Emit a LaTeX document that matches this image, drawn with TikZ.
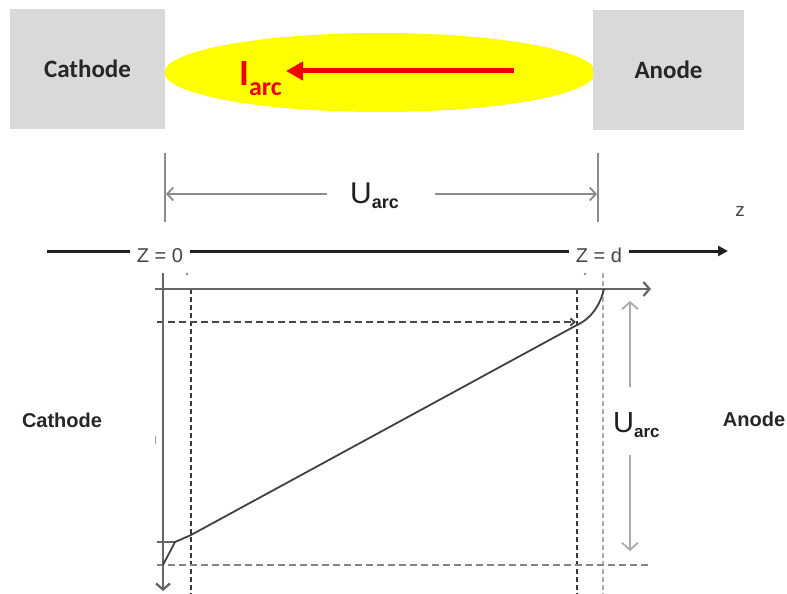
\documentclass[tikz,border=0pt]{standalone}
\usepackage{fontspec}
\setmainfont{Liberation Sans}
\newfontfamily\calib{Carlito}
\usetikzlibrary{arrows.meta,shapes.geometric}
\definecolor{boxgray}{HTML}{D9D9D9}
\definecolor{axgray}{HTML}{666666}
\definecolor{dimgray}{HTML}{8C8C8C}
\definecolor{ltgray}{HTML}{ABABAB}
\definecolor{txtgray}{HTML}{444444}
\definecolor{arcred}{HTML}{F00000}
\definecolor{arcyellow}{HTML}{FFFF00}
\begin{document}
\begin{tikzpicture}[x=1pt,y=-1pt,
 elbox/.style={fill=boxgray, inner sep=0pt, minimum height=120pt},
 eltext/.style={font=\calib\bfseries\fontsize{25}{25}\selectfont, text=black!85},
 sidetext/.style={font=\bfseries\fontsize{20}{20}\selectfont, text=black!85},
 dimline/.style={draw=dimgray, line width=1.8pt},
 dimarrow/.style={dimline, -{Straight Barb[length=6pt,width=13pt]}},
 axline/.style={draw=axgray, line width=2.3pt},
 axarrow/.style={axline, -{Straight Barb[length=6pt,width=14pt]}},
 zaxis/.style={draw=black!88, line width=3pt},
 zlabel/.style={font=\fontsize{20}{20}\selectfont, text=txtgray, inner xsep=7pt, inner ysep=0pt, anchor=base},
 blackdash/.style={draw=black!78, line width=1.8pt, dash pattern=on 5pt off 3pt},
 graydash/.style={draw=ltgray, line width=1.8pt, dash pattern=on 5pt off 3pt},
 hdash/.style={draw=black!72, line width=2pt, dash pattern=on 7pt off 4pt},
 hdashgray/.style={draw=black!48, line width=2pt, dash pattern=on 7pt off 4pt},
 curveline/.style={draw=black!75, line width=1.8pt},
 ulabel/.style={anchor=base west, inner sep=0pt, text=black!88},
]
\useasboundingbox (0,0) rectangle (787,594);

% ---------- top: electrodes and arc ----------
\node[ellipse, fill=arcyellow, inner sep=0pt, minimum width=431pt, minimum height=79pt] (arc) at (380,72.5) {};
\node[elbox, minimum width=155pt] (cathbox) at (87.5,69) {};
\node[elbox, minimum width=151pt] (anodbox) at (668.5,70) {};
\node[eltext] (cathtxt) at (cathbox.center) {Cathode};
\node[eltext] (anodtxt) at (anodbox.center) {Anode};

\coordinate (arcS) at (514,71);
\coordinate (arcE) at (286,71);
\draw[arcred, line width=5pt, -{Triangle[length=17pt,width=18pt]}] (arcS) -- (arcE);
\node[anchor=base west, inner sep=0pt, text=arcred] (iarc) at (239,85)
  {\calib\bfseries\fontsize{37}{37}\selectfont I\raisebox{-10pt}{\fontsize{26}{26}\selectfont arc}};

% ---------- dimension U_arc (top) ----------
\coordinate (dl1) at (165,153); \coordinate (dl2) at (165,222);
\coordinate (dr1) at (598,153); \coordinate (dr2) at (598,222);
\draw[dimline] (dl1) -- (dl2);
\draw[dimline] (dr1) -- (dr2);
\coordinate (dlm) at (327,194); \coordinate (dla) at (166,194);
\coordinate (drm) at (435,194); \coordinate (dra) at (597,194);
\draw[dimarrow] (dlm) -- (dla);
\draw[dimarrow] (drm) -- (dra);
\node[ulabel] (utop) at (350,203)
  {\fontsize{30}{30}\selectfont U\raisebox{-5pt}{\bfseries\fontsize{18}{18}\selectfont arc}};

\node[font=\fontsize{19}{19}\selectfont, text=txtgray, inner sep=0pt] (zname) at (740,211) {z};

% ---------- z axis ----------
\coordinate (zs) at (47,251);
\coordinate (ze) at (728,251);
\node[zlabel] (z0) at (160,262) {Z = 0};
\node[zlabel] (zd) at (599,262) {Z = d};
\draw[zaxis] (zs) -- (z0.west |- zs);
\draw[zaxis] (z0.east |- zs) -- (zd.west |- zs);
\draw[zaxis, -{Triangle[length=10pt,width=10pt]}] (zd.east |- zs) -- (ze);

% ---------- lower graph ----------
% dashed guides
\coordinate (d1t) at (191,289); \coordinate (d1b) at (191,594);
\coordinate (d2t) at (577,289); \coordinate (d2b) at (577,594);
\coordinate (d3t) at (603,273); \coordinate (d3b) at (603,594);
\draw[blackdash] (d1t) -- (d1b);
\draw[blackdash] (d2t) -- (d2b);
\draw[graydash] (d3t) -- (d3b);
\coordinate (h1l) at (157,322); \coordinate (h1r) at (576,322);
\coordinate (h2l) at (157,565); \coordinate (h2r) at (648,565);
\draw[hdash, -{Straight Barb[length=4pt,width=7pt]}] (h1l) -- (h1r);
\draw[hdashgray] (h2l) -- (h2r);

% axes
\coordinate (vtop) at (163,273); \coordinate (vbot) at (163,591);
\coordinate (htl) at (155,289); \coordinate (htr) at (651,289);
\draw[axarrow] (vtop) -- (vbot);
\draw[axarrow] (htl) -- (htr);
\coordinate (t1l) at (157,542); \coordinate (t1r) at (176,542);
\draw[axline, line width=1.5pt] (t1l) -- (t1r);

% small marks
\coordinate (m1) at (187,274); \coordinate (m2) at (585,274);
\fill[black!45] (m1) circle (1.3pt);
\fill[black!45] (m2) circle (1.3pt);
\coordinate (m3a) at (155,436); \coordinate (m3b) at (155,444);
\draw[black!40, line width=1pt] (m3a) -- (m3b);

% potential curve
\coordinate (c0) at (163,565);
\coordinate (c1) at (175,542);
\coordinate (c2) at (191,535);
\coordinate (c3) at (577,325);
\coordinate (c4) at (604,289);
\draw[curveline] (c0) -- (c1) -- (c2) -- (c3) .. controls (592,318) and (600,305) .. (c4);

% right U_arc dimension
\coordinate (ru1) at (630,387); \coordinate (ru0) at (630,301);
\coordinate (rd1) at (630,455); \coordinate (rd0) at (630,551);
\draw[dimline, draw=ltgray, -{Straight Barb[length=7pt,width=16pt]}] (ru1) -- (ru0);
\draw[dimline, draw=ltgray, -{Straight Barb[length=7pt,width=16pt]}] (rd1) -- (rd0);
\node[ulabel] (uright) at (613,432)
  {\fontsize{29}{29}\selectfont U\raisebox{-5pt}{\bfseries\fontsize{17}{17}\selectfont arc}};

% side labels
\node[sidetext] (cathside) at (62,420) {Cathode};
\node[sidetext] (anodside) at (754,419) {Anode};
\end{tikzpicture}
\end{document}
